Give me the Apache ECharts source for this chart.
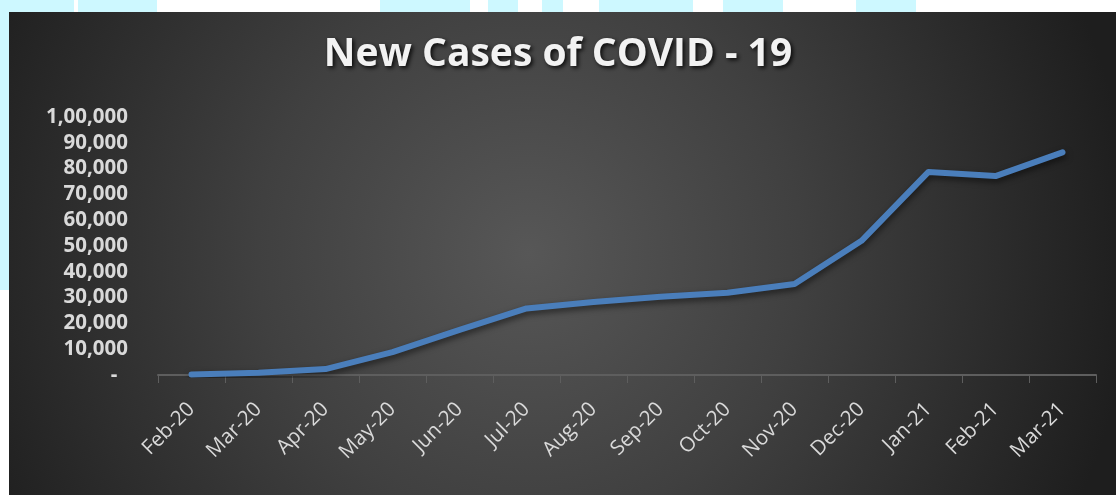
<!DOCTYPE html>
<html>
<head>
<meta charset="utf-8">
<script src="https://cdn.jsdelivr.net/npm/echarts@6/dist/echarts.min.js"></script>
<style>
html,body{margin:0;padding:0;background:#ffffff;}
#chart{width:1116px;height:495px;}
</style>
</head>
<body>
<div id="chart"></div>
<script>
const titleText = 'New Cases of COVID - 19';
const categories = ['Feb-20','Mar-20','Apr-20','May-20','Jun-20','Jul-20','Aug-20','Sep-20','Oct-20','Nov-20','Dec-20','Jan-21','Feb-21','Mar-21'];
const newCases = [200, 900, 2300, 8900, 17500, 25800, 28300, 30300, 31900, 35300, 52000, 78700, 77100, 86300];
const yMin = 0, yMax = 100000, yStep = 10000;

function indianFormat(v) {
  if (v === 0) return '-  ';
  const s = String(Math.round(v));
  if (s.length <= 3) return s;
  const last3 = s.slice(-3);
  let rest = s.slice(0, -3);
  const parts = [];
  while (rest.length > 2) { parts.unshift(rest.slice(-2)); rest = rest.slice(0, -2); }
  if (rest.length) parts.unshift(rest);
  return parts.join(',') + ',' + last3;
}

const cyan = '#cdf8ff';
const stripRects = [[0,74],[78,157],[380,470],[488,518],[542,563],[599,693],[723,783],[856,916]];
const graphics = [];
stripRects.forEach(function (r) {
  graphics.push({type:'rect', z:-20, shape:{x:r[0], y:0, width:r[1]-r[0], height:12}, style:{fill:cyan}});
});
graphics.push({type:'rect', z:-20, shape:{x:0, y:0, width:9, height:290}, style:{fill:cyan}});
graphics.push({
  type:'rect', z:-10,
  shape:{x:9, y:12, width:1107, height:483},
  style:{fill:{type:'radial', x:0.47, y:0.5, r:1.25, colorStops:[
    {offset:0, color:'#575757'},
    {offset:0.45, color:'#404040'},
    {offset:1, color:'#1e1e1e'}
  ]}}
});

const chart = echarts.init(document.getElementById('chart'));
chart.setOption({
  backgroundColor: '#ffffff',
  animation: false,
  graphic: graphics,
  title: {
    text: titleText,
    left: 'center',
    top: 30,
    textStyle: {
      color: '#f2f2f2',
      fontFamily: 'Open Sans',
      fontWeight: 'bold',
      fontSize: 39,
      textShadowColor: 'rgba(0,0,0,0.85)',
      textShadowBlur: 4,
      textShadowOffsetX: 2,
      textShadowOffsetY: 2
    }
  },
  grid: {left: 158, right: 20, top: 117, bottom: 120, containLabel: false},
  xAxis: {
    type: 'category',
    data: categories,
    boundaryGap: true,
    axisLine: {show: true, lineStyle: {color: '#5e5e5e', width: 2}},
    axisTick: {show: true, length: 8, lineStyle: {color: '#5e5e5e', width: 1}},
    axisLabel: {
      rotate: 45,
      margin: 31,
      color: '#d9d9d9',
      fontFamily: 'Open Sans',
      fontSize: 20.5,
      interval: 0
    },
    splitLine: {show: false}
  },
  yAxis: {
    type: 'value',
    min: yMin,
    max: yMax,
    interval: yStep,
    axisLine: {show: false},
    axisTick: {show: false},
    splitLine: {show: false},
    axisLabel: {
      margin: 30,
      color: '#d9d9d9',
      fontFamily: 'Open Sans',
      fontWeight: 'bold',
      fontSize: 20.5,
      formatter: indianFormat
    }
  },
  series: [{
    type: 'line',
    data: newCases,
    symbol: 'none',
    smooth: false,
    lineStyle: {
      color: '#4a7ebb',
      width: 6,
      cap: 'round',
      join: 'round',
      shadowColor: 'rgba(0,0,0,0.55)',
      shadowBlur: 6,
      shadowOffsetY: 3,
      shadowOffsetX: 1
    }
  }]
});
</script>
</body>
</html>
